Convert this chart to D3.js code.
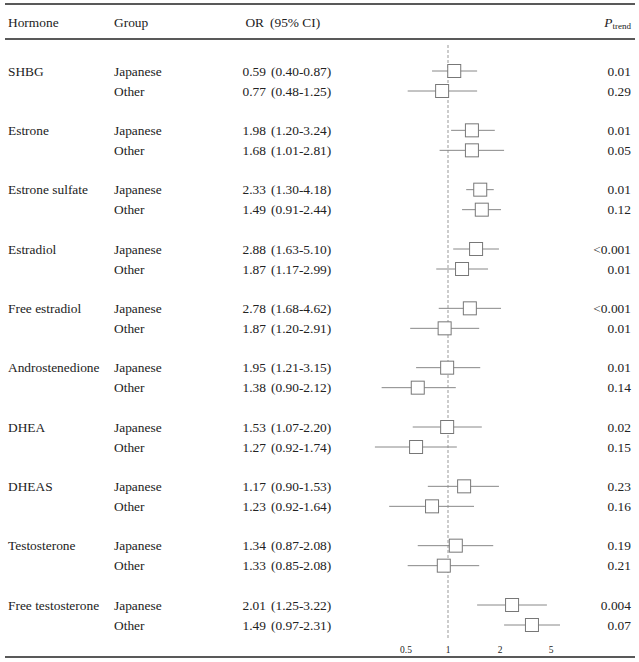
<!DOCTYPE html>
<html>
<head>
<meta charset="utf-8">
<script src="https://cdn.jsdelivr.net/npm/d3@7"></script>
<style>
  body { margin: 0; background: #fff; }
  text { font-family: "Liberation Serif", "Times New Roman", serif; fill: #222; }
</style>
</head>
<body>
<div id="container"></div>
<script>
const hormones = ['SHBG', 'Estrone', 'Estrone sulfate', 'Estradiol', 'Free estradiol',
    'Androstenedione', 'DHEA', 'DHEAS', 'Testosterone', 'Free testosterone'];
const groups = ['Japanese', 'Other'];
// printed columns, [Japanese, Other] per hormone
const orText = [['0.59', '0.77'], ['1.98', '1.68'], ['2.33', '1.49'], ['2.88', '1.87'], ['2.78', '1.87'],
    ['1.95', '1.38'], ['1.53', '1.27'], ['1.17', '1.23'], ['1.34', '1.33'], ['2.01', '1.49']];
const ciText = [['(0.40-0.87)', '(0.48-1.25)'], ['(1.20-3.24)', '(1.01-2.81)'], ['(1.30-4.18)', '(0.91-2.44)'],
    ['(1.63-5.10)', '(1.17-2.99)'], ['(1.68-4.62)', '(1.20-2.91)'], ['(1.21-3.15)', '(0.90-2.12)'],
    ['(1.07-2.20)', '(0.92-1.74)'], ['(0.90-1.53)', '(0.92-1.64)'], ['(0.87-2.08)', '(0.85-2.08)'],
    ['(1.25-3.22)', '(0.97-2.31)']];
const pTrend = [['0.01', '0.29'], ['0.01', '0.05'], ['0.01', '0.12'], ['<0.001', '0.01'], ['<0.001', '0.01'],
    ['0.01', '0.14'], ['0.02', '0.15'], ['0.23', '0.16'], ['0.19', '0.21'], ['0.004', '0.07']];
// plotted marks (axis units)
const est = [[1.12, 0.93], [1.46, 1.46], [1.62, 1.65], [1.54, 1.27], [1.42, 0.96],
    [0.99, 0.64], [0.99, 0.62], [1.31, 0.81], [1.15, 0.95], [2.71, 3.88]];
const lo = [[0.81, 0.52], [1.06, 0.90], [1.35, 1.27], [1.10, 0.86], [0.89, 0.55],
    [0.62, 0.21], [0.58, 0.13], [0.76, 0.30], [0.64, 0.52], [1.56, 2.24]];
const hi = [[1.56, 1.56], [1.90, 2.24], [1.88, 2.06], [1.98, 1.77], [2.06, 1.60],
    [1.62, 1.15], [1.65, 1.17], [1.98, 1.50], [1.87, 1.60], [4.76, 5.53]];
const ticks = [0.5, 1, 2, 5];

const W = 639, H = 662;
const FS = 13.4;
const svg = d3.select('#container').append('svg')
    .attr('width', W).attr('height', H);

const x = d3.scaleLinear().domain([0.5, 1, 2, 5]).range([406, 448, 500, 551]);
const y = d3.scaleLinear().domain([0, 9]).range([71, 605]);
const rowY = (h, g) => y(h) + g * 20;

const rows = [];
hormones.forEach((h, i) => groups.forEach((g, j) => rows.push({
    h, i, g, j, or: orText[i][j], ci: ciText[i][j], p: pTrend[i][j],
    est: est[i][j], lo: lo[i][j], hi: hi[i][j]
})));

// rules
[[4, 1.6], [39, 1.4], [657, 1.6]].forEach(([yy, w]) => svg.append('line')
    .attr('x1', 5).attr('x2', 635).attr('y1', yy).attr('y2', yy)
    .attr('stroke', '#222').attr('stroke-width', w));

// header
const head = svg.append('g').attr('font-size', FS);
head.append('text').attr('x', 8).attr('y', 27).text('Hormone');
head.append('text').attr('x', 114).attr('y', 27).text('Group');
head.append('text').attr('x', 264).attr('y', 27).attr('text-anchor', 'end').text('OR');
head.append('text').attr('x', 270).attr('y', 27).text('(95% CI)');
const pt = head.append('text').attr('x', 631).attr('y', 27).attr('text-anchor', 'end');
pt.append('tspan').attr('font-style', 'italic').text('P');
pt.append('tspan').attr('font-size', 9).attr('dy', 2).text('trend');

// reference line at 1
svg.append('line')
    .attr('x1', x(1)).attr('x2', x(1)).attr('y1', 45).attr('y2', 638)
    .attr('stroke', '#999').attr('stroke-dasharray', '3,2');

const row = svg.selectAll('g.row').data(rows).enter()
    .append('g').attr('class', 'row').attr('font-size', FS);
row.filter(d => d.j === 0).append('text')
    .attr('x', 8).attr('y', d => rowY(d.i, d.j) + 4.5).text(d => d.h);
row.append('text').attr('x', 114).attr('y', d => rowY(d.i, d.j) + 4.5).text(d => d.g);
row.append('text').attr('x', 266).attr('y', d => rowY(d.i, d.j) + 4.5)
    .attr('text-anchor', 'end').text(d => d.or);
row.append('text').attr('x', 271).attr('y', d => rowY(d.i, d.j) + 4.5).text(d => d.ci);
row.append('text').attr('x', 631).attr('y', d => rowY(d.i, d.j) + 4.5)
    .attr('text-anchor', 'end').text(d => d.p);

row.append('line')
    .attr('x1', d => x(d.lo)).attr('x2', d => x(d.hi))
    .attr('y1', d => rowY(d.i, d.j)).attr('y2', d => rowY(d.i, d.j))
    .attr('stroke', '#888').attr('stroke-width', 1);
row.append('rect')
    .attr('x', d => x(d.est) - 6.5).attr('y', d => rowY(d.i, d.j) - 6.5)
    .attr('width', 13).attr('height', 13)
    .attr('fill', '#fff').attr('stroke', '#777').attr('stroke-width', 1);

// axis labels
svg.append('g').attr('font-size', 9.5).selectAll('text').data(ticks).enter()
    .append('text').attr('x', d => x(d)).attr('y', 653)
    .attr('text-anchor', 'middle').text(d => d);
</script>
</body>
</html>
